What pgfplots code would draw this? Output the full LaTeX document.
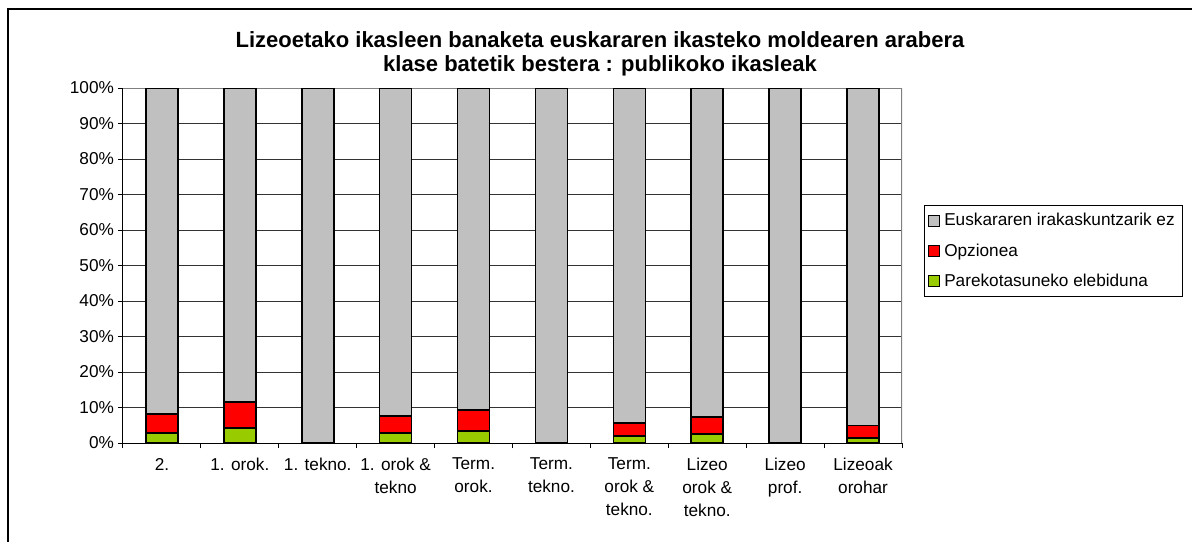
\documentclass[border=0pt]{standalone}
\usepackage{pgfplots}
\pgfplotsset{compat=1.18}
\usepackage{fontspec}
\setmainfont{Liberation Sans}

\definecolor{cgray}{HTML}{C0C0C0}
\definecolor{cred}{HTML}{FF0000}
\definecolor{cgreen}{HTML}{99CC00}

\begin{document}
\begin{tikzpicture}
\useasboundingbox (-61.5pt,-49.5pt) rectangle (534.5pt,221.5pt);
\fontsize{8.6pt}{11.5pt}\selectfont
\begin{axis}[
    at={(0,0)}, anchor=south west,
    scale only axis,
    width=389.5pt, height=177.5pt,
    ybar stacked,
    bar width=16pt,
    xmin=-0.5, xmax=9.5,
    ymin=0, ymax=100,
    axis lines*=left,
    axis line style={black, line width=0.5pt},
    xtick={0,...,9},
    xticklabels={2., 1. orok., 1. tekno., 1. orok \&\\tekno, Term.\\orok., Term.\\tekno., Term.\\orok \&\\tekno., Lizeo\\orok \&\\tekno., Lizeo\\prof., Lizeoak\\orohar},
    xticklabel style={align=center, font=\fontsize{8.6pt}{11.5pt}\selectfont, yshift=-2pt},
    major x tick style={draw=none},
    minor xtick={-0.5,0.5,...,9.5},
    minor x tick style={black, line width=0.5pt},
    tick align=outside,
    minor tick length=2.5pt,
    major tick length=2.5pt,
    ytick={0,10,...,100},
    yticklabels={0\%,10\%,20\%,30\%,40\%,50\%,60\%,70\%,80\%,90\%,100\%},
    yticklabel style={font=\fontsize{8.6pt}{10pt}\selectfont, xshift=1pt},
    y tick style={black, line width=0.5pt},
    ymajorgrids,
    major grid style={black!80, line width=0.5pt},
    legend cell align=left,
    reverse legend,
    legend style={at={(rel axis cs:1.0282,0.6704)}, anchor=north west,
        draw=black, line width=0.5pt, inner sep=2pt,
        font=\fontsize{8.6pt}{10pt}\selectfont, row sep=3.5pt,
        minimum width=0pt},
    legend image code/.code={\draw[#1, line width=0.5pt] (0pt,-2.7pt) rectangle (5.4pt,2.7pt);},
]
\addplot[fill=cgreen, draw=black, line width=0.8pt] coordinates {
 (0,2.9) (1,4.2) (2,0) (3,2.9) (4,3.3) (5,0) (6,1.9) (7,2.6) (8,0) (9,1.4)};
\addplot[fill=cred, draw=black, line width=0.8pt] coordinates {
 (0,5.3) (1,7.4) (2,0) (3,4.7) (4,6.0) (5,0) (6,3.8) (7,4.7) (8,0) (9,3.5)};
\addplot[fill=cgray, draw=black, line width=0.8pt] coordinates {
 (0,91.8) (1,88.4) (2,100) (3,92.4) (4,90.7) (5,100) (6,94.3) (7,92.7) (8,100) (9,95.1)};
\legend{Parekotasuneko elebiduna, Opzionea, Euskararen irakaskuntzarik ez}
\draw[gray, line width=0.8pt] (rel axis cs:0,1) -- (rel axis cs:1,1) -- (rel axis cs:1,0);
\end{axis}
\draw[black, line width=0.6pt] (-57.5pt,-49.5pt) -- (-57.5pt,217pt) -- (534.5pt,217pt);
\node[anchor=base, font=\bfseries\fontsize{11pt}{13pt}\selectfont] at (238.5pt,197.5pt) {Lizeoetako ikasleen banaketa euskararen ikasteko moldearen arabera};
\node[anchor=base, font=\bfseries\fontsize{11pt}{13pt}\selectfont] at (238.5pt,185.5pt) {klase batetik bestera : publikoko ikasleak};
\end{tikzpicture}
\end{document}
